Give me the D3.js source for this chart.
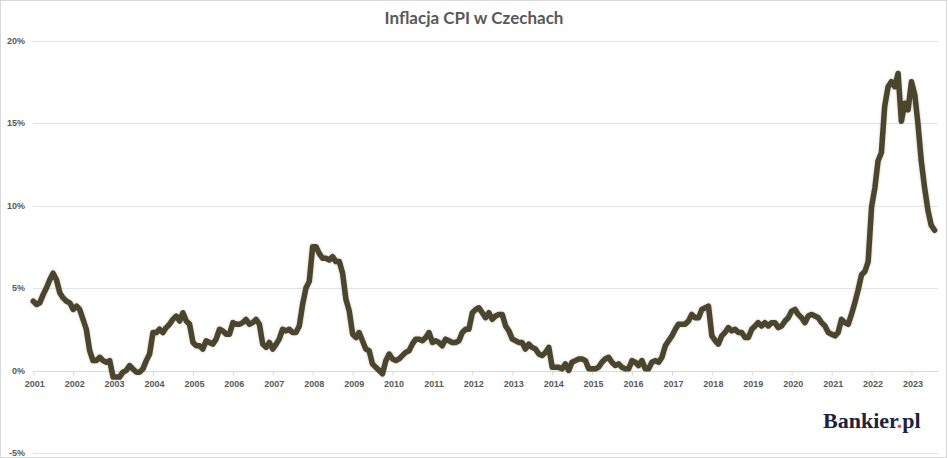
<!DOCTYPE html>
<html>
<head>
<meta charset="utf-8">
<script src="https://cdn.jsdelivr.net/npm/d3@7"></script>
<style>
  html, body { margin: 0; padding: 0; background: #ffffff; }
  svg { display: block; }
</style>
</head>
<body>
<svg id="chart" width="948" height="458"></svg>
<script>
// ---- Data (monthly CPI y/y, %, Jan 2001 – Aug 2023) ----
const startYear = 2001;
const v2001 = [4.2, 4.0, 4.1, 4.6, 5.0, 5.5, 5.9, 5.5, 4.7, 4.4, 4.2, 4.1];
const v2002 = [3.7, 3.9, 3.7, 3.1, 2.5, 1.2, 0.6, 0.6, 0.8, 0.6, 0.5, 0.6];
const v2003 = [-0.4, -0.4, -0.4, -0.1, 0.0, 0.3, 0.1, -0.1, -0.1, 0.1, 0.6, 1.0];
const v2004 = [2.3, 2.3, 2.5, 2.3, 2.6, 2.8, 3.1, 3.3, 3.0, 3.5, 3.0, 2.8];
const v2005 = [1.7, 1.5, 1.5, 1.3, 1.8, 1.7, 1.6, 1.9, 2.5, 2.4, 2.2, 2.2];
const v2006 = [2.9, 2.8, 2.8, 2.9, 3.1, 2.8, 2.9, 3.1, 2.8, 1.6, 1.4, 1.7];
const v2007 = [1.3, 1.6, 1.9, 2.5, 2.4, 2.5, 2.3, 2.3, 2.7, 4.0, 5.0, 5.4];
const v2008 = [7.5, 7.5, 7.1, 6.8, 6.8, 6.7, 6.9, 6.6, 6.6, 5.9, 4.3, 3.6];
const v2009 = [2.2, 2.0, 2.3, 1.8, 1.3, 1.2, 0.4, 0.2, 0.0, -0.2, 0.6, 1.0];
const v2010 = [0.7, 0.6, 0.7, 0.9, 1.1, 1.2, 1.6, 1.9, 1.9, 1.8, 2.0, 2.3];
const v2011 = [1.7, 1.8, 1.7, 1.5, 1.9, 1.8, 1.7, 1.7, 1.8, 2.3, 2.5, 2.5];
const v2012 = [3.5, 3.7, 3.8, 3.5, 3.2, 3.5, 3.1, 3.3, 3.4, 3.4, 2.7, 2.4];
const v2013 = [1.9, 1.8, 1.7, 1.7, 1.3, 1.6, 1.4, 1.3, 1.0, 0.9, 1.1, 1.4];
const v2014 = [0.2, 0.2, 0.2, 0.1, 0.4, 0.0, 0.5, 0.6, 0.7, 0.7, 0.6, 0.1];
const v2015 = [0.1, 0.1, 0.2, 0.5, 0.7, 0.8, 0.5, 0.3, 0.4, 0.2, 0.1, 0.1];
const v2016 = [0.6, 0.5, 0.3, 0.6, 0.1, 0.1, 0.5, 0.6, 0.5, 0.8, 1.5, 1.8];
const v2017 = [2.1, 2.5, 2.8, 2.8, 2.8, 3.0, 3.4, 3.2, 3.2, 3.7, 3.8, 3.9];
const v2018 = [2.1, 1.8, 1.6, 2.1, 2.3, 2.6, 2.4, 2.5, 2.3, 2.3, 2.0, 2.0];
const v2019 = [2.5, 2.7, 2.9, 2.7, 2.9, 2.7, 2.9, 2.9, 2.6, 2.7, 3.0, 3.2];
const v2020 = [3.6, 3.7, 3.4, 3.2, 2.9, 3.3, 3.4, 3.3, 3.2, 2.9, 2.7, 2.3];
const v2021 = [2.2, 2.1, 2.3, 3.1, 2.9, 2.8, 3.4, 4.1, 4.9, 5.8, 6.0, 6.6];
const v2022 = [9.9, 11.1, 12.7, 13.2, 16.0, 17.2, 17.5, 17.2, 18.0, 15.1, 16.2, 15.8];
const v2023 = [17.5, 16.7, 15.0, 12.7, 11.1, 9.7, 8.8, 8.5];

const yearLabels = ["2001","2002","2003","2004","2005","2006","2007","2008","2009","2010","2011","2012",
                    "2013","2014","2015","2016","2017","2018","2019","2020","2021","2022","2023"];
const yTicks = [-5, 0, 5, 10, 15, 20];
const titleText = "Inflacja CPI w Czechach";

// ---- Build series ----
const allValues = [].concat(v2001, v2002, v2003, v2004, v2005, v2006, v2007, v2008, v2009, v2010,
  v2011, v2012, v2013, v2014, v2015, v2016, v2017, v2018, v2019, v2020, v2021, v2022, v2023);
const series = allValues.map((v, i) => ({ date: new Date(startYear, i, 1), value: v }));

// ---- Chart ----
const svg = d3.select("#chart");
const W = 948, H = 458;
const textColor = "#595959";

svg.append("rect").attr("x", 0.5).attr("y", 0.5).attr("width", W - 2).attr("height", H - 1)
  .attr("fill", "#fff").attr("stroke", "#d9d9d9");

const x = d3.scaleTime()
  .domain([new Date(2001, 0, 1), new Date(2023, 8, 1)])
  .range([33.3, 938]);
const y = d3.scaleLinear().domain([-5, 20]).range([453, 40.5]);

// gridlines
svg.append("g").selectAll("line").data(yTicks.filter(t => t !== 0)).join("line")
  .attr("x1", 33).attr("x2", 938)
  .attr("y1", d => Math.round(y(d)) + 0.5).attr("y2", d => Math.round(y(d)) + 0.5)
  .attr("stroke", "#e3e3e3").attr("stroke-width", 1);

// y labels
svg.append("g").selectAll("text").data(yTicks).join("text")
  .attr("x", 25).attr("y", d => y(d)).attr("dy", "0.35em")
  .attr("text-anchor", "end")
  .attr("font-family", "Liberation Sans, Arial, sans-serif")
  .attr("font-size", 9).attr("font-weight", "bold")
  .attr("fill", textColor)
  .text(d => d + "%");

// x axis at 0
const yearDates = yearLabels.map(s => new Date(+s, 0, 1));
const xAxis = d3.axisBottom(x).tickValues(yearDates).tickSize(4).tickFormat("");
const gx = svg.append("g").attr("transform", `translate(0,${Math.round(y(0)) + 0.5})`).call(xAxis);
gx.select(".domain").attr("stroke", "#d9d9d9").attr("d", `M33,0H938`);
gx.selectAll(".tick line").attr("stroke", "#d9d9d9");

svg.append("g").selectAll("text").data(yearLabels).join("text")
  .attr("x", d => x(new Date(+d, 0, 1)) + 1.5)
  .attr("y", 384).attr("dy", "0.35em")
  .attr("text-anchor", "middle")
  .attr("font-family", "Liberation Sans, Arial, sans-serif")
  .attr("font-size", 9).attr("font-weight", "bold")
  .attr("fill", textColor)
  .text(d => d);

// line with soft shadow
const defs = svg.append("defs");
const f = defs.append("filter").attr("id", "soft").attr("x", "-5%").attr("y", "-5%").attr("width", "110%").attr("height", "110%");
f.append("feGaussianBlur").attr("in", "SourceAlpha").attr("stdDeviation", 1.2).attr("result", "b");
f.append("feFlood").attr("flood-color", "#4c452f").attr("flood-opacity", 0.35);
f.append("feComposite").attr("in2", "b").attr("operator", "in").attr("result", "s");
const m = f.append("feMerge");
m.append("feMergeNode").attr("in", "s");
m.append("feMergeNode").attr("in", "SourceGraphic");

const line = d3.line().x(d => x(d.date)).y(d => y(d.value));
svg.append("path").datum(series)
  .attr("d", line)
  .attr("fill", "none")
  .attr("stroke", "#4c452f")
  .attr("stroke-width", 5.5)
  .attr("stroke-linejoin", "round")
  .attr("stroke-linecap", "round")
  .attr("filter", "url(#soft)");

// title
svg.append("text").attr("x", 474).attr("y", 18).attr("dy", "0.35em")
  .attr("text-anchor", "middle")
  .attr("font-family", "Lato, 'Open Sans', sans-serif")
  .attr("font-size", 17).attr("font-weight", "bold")
  .attr("fill", textColor)
  .text(titleText);

// logo
const logo = svg.append("text").attr("x", 823).attr("y", 428)
  .attr("font-family", "'Liberation Serif', 'DejaVu Serif', serif")
  .attr("font-size", 22).attr("font-weight", "bold")
  .attr("fill", "#1b2340");
logo.append("tspan").text("Bankier");
logo.append("tspan").attr("fill", "#e8532b").text(".");
logo.append("tspan").text("pl");
</script>
</body>
</html>
